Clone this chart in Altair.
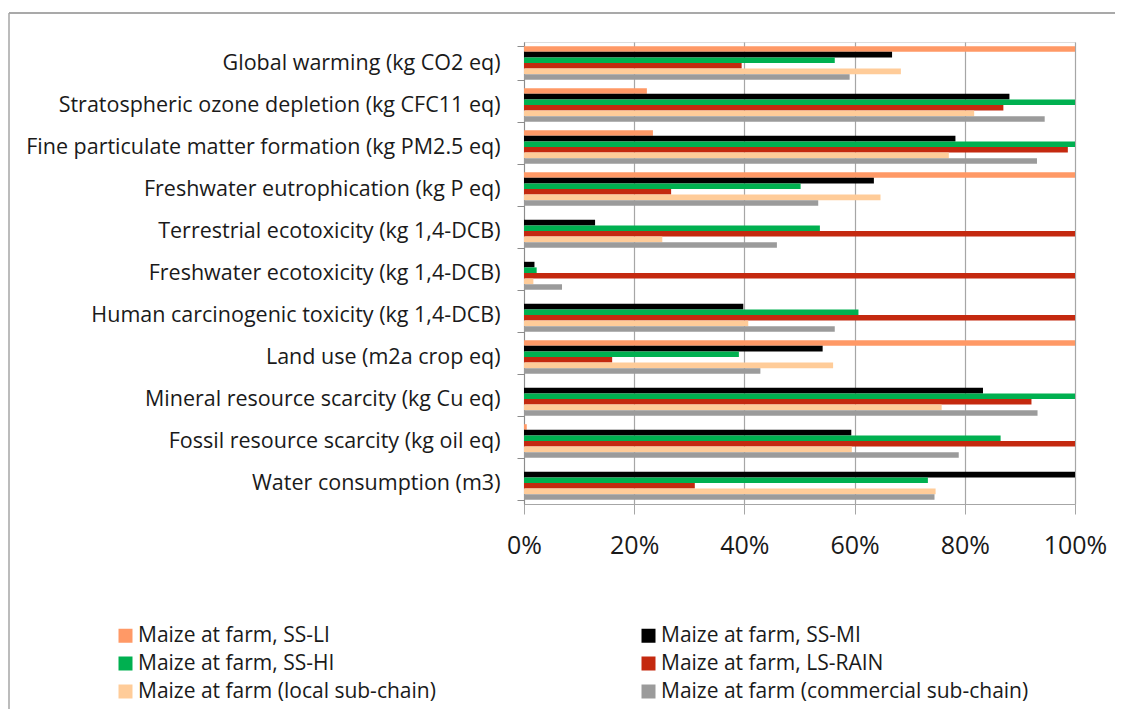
import altair as alt
import pandas as pd

categories = [
    "Global warming (kg CO2 eq)",
    "Stratospheric ozone depletion (kg CFC11 eq)",
    "Fine particulate matter formation (kg PM2.5 eq)",
    "Freshwater eutrophication (kg P eq)",
    "Terrestrial ecotoxicity (kg 1,4-DCB)",
    "Freshwater ecotoxicity (kg 1,4-DCB)",
    "Human carcinogenic toxicity (kg 1,4-DCB)",
    "Land use (m2a crop eq)",
    "Mineral resource scarcity (kg Cu eq)",
    "Fossil resource scarcity (kg oil eq)",
    "Water consumption (m3)",
]

series = [
    "Maize at farm, SS-LI",
    "Maize at farm, SS-MI",
    "Maize at farm, SS-HI",
    "Maize at farm, LS-RAIN",
    "Maize at farm (local sub-chain)",
    "Maize at farm (commercial sub-chain)",
]

colors = ["#FF9966", "#000000", "#00B050", "#C4290F", "#FFCC99", "#9B9B9B"]

# legend is laid out column by column, so list column 1 first, then column 2
legend_order = [series[0], series[2], series[4], series[1], series[3], series[5]]
legend_colors = [colors[0], colors[2], colors[4], colors[1], colors[3], colors[5]]

ss_li = [1.00, 0.223, 0.234, 1.00, 0.0, 0.0, 0.0, 1.00, 0.0, 0.005, 0.0]
ss_mi = [0.668, 0.881, 0.783, 0.635, 0.129, 0.019, 0.398, 0.542, 0.833, 0.594, 1.00]
ss_hi = [0.564, 1.00, 1.00, 0.502, 0.537, 0.023, 0.607, 0.390, 1.00, 0.865, 0.733]
ls_rain = [0.395, 0.870, 0.987, 0.267, 1.00, 1.00, 1.00, 0.160, 0.921, 1.00, 0.310]
local_chain = [0.684, 0.817, 0.771, 0.647, 0.251, 0.017, 0.407, 0.561, 0.758, 0.595, 0.747]
commercial_chain = [0.591, 0.945, 0.931, 0.534, 0.459, 0.069, 0.564, 0.429, 0.932, 0.789, 0.745]

values = [ss_li, ss_mi, ss_hi, ls_rain, local_chain, commercial_chain]

rows = []
for s_name, vals in zip(series, values):
    for cat, v in zip(categories, vals):
        rows.append({"category": cat, "series": s_name, "value": v})
df = pd.DataFrame(rows)

FONT = "Open Sans"
TEXT = "#1a1a1a"

bars = alt.Chart(df).mark_bar().encode(
    y=alt.Y(
        "category:N",
        sort=categories,
        scale=alt.Scale(paddingInner=0.2, paddingOuter=0.1),
        axis=alt.Axis(
            title=None,
            tickBand="extent",
            tickSize=7,
            tickColor="#8c8c8c",
            domainColor="#8c8c8c",
            labelFontSize=21.5,
            labelFont=FONT,
            labelColor=TEXT,
            labelPadding=17,
            labelLimit=600,
            grid=False,
        ),
    ),
    yOffset=alt.YOffset("series:N", sort=series, scale=alt.Scale(paddingInner=0, paddingOuter=0)),
    x=alt.X(
        "value:Q",
        scale=alt.Scale(domain=[0, 1], nice=False),
        axis=alt.Axis(
            title=None,
            format="%",
            values=[0, 0.2, 0.4, 0.6, 0.8, 1.0],
            tickSize=10,
            tickColor="#a6a6a6",
            domainColor="#a6a6a6",
            gridColor="#a6a6a6",
            gridWidth=1.2,
            labelFontSize=25,
            labelFont=FONT,
            labelColor=TEXT,
            labelPadding=19,
            labelFlush=False,
        ),
    ),
    color=alt.Color(
        "series:N",
        scale=alt.Scale(domain=legend_order, range=legend_colors),
        legend=alt.Legend(
            title=None,
            orient="none",
            legendX=-409,
            legendY=583,
            columns=2,
            columnPadding=202,
            rowPadding=6,
            symbolType="square",
            symbolSize=196,
            symbolStrokeWidth=0,
            symbolOffset=0,
            labelFontSize=21,
            labelFont=FONT,
            labelColor=TEXT,
            labelOffset=2,
            padding=0,
            labelLimit=500,
        ),
    ),
)

border_top = alt.Chart(pd.DataFrame({"k": [0]})).mark_rule(color="#8c8c8c", strokeWidth=1.5).encode(
    x=alt.value(-515), x2=alt.value(600), y=alt.value(-29)
)
border_left = alt.Chart(pd.DataFrame({"k": [0]})).mark_rule(color="#a6a6a6", strokeWidth=1.5).encode(
    x=alt.value(-515), y=alt.value(-29), y2=alt.value(680)
)

chart = alt.layer(bars, border_top, border_left).properties(
    width=551,
    height=462,
    padding={"left": 516, "top": 34, "right": 40, "bottom": 205},
    autosize=alt.AutoSizeParams(type="none"),
).configure_view(stroke=None).configure(font=FONT)

chart.save("out.html", embed_options={"renderer": "svg", "actions": False})
